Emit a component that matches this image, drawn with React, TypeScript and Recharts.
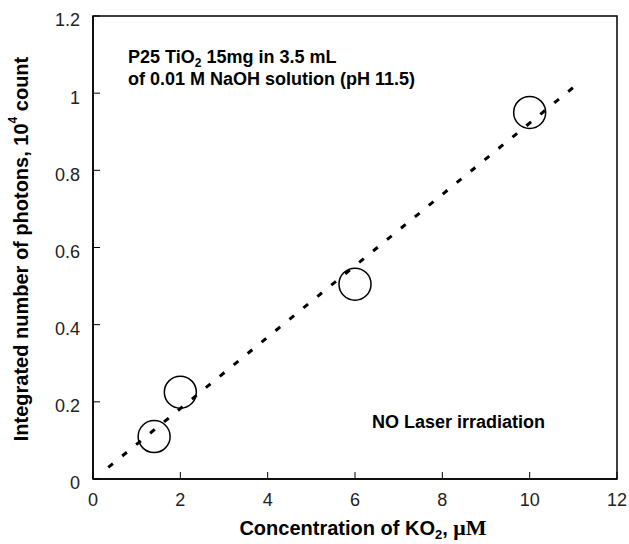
import { ScatterChart, Scatter, XAxis, YAxis, ReferenceArea, Label } from "recharts";

// measured points: KO2 concentration (uM) vs integrated photons (10^4 count)
const koConc = [1.4, 2, 6, 10];
const photons = [0.11, 0.225, 0.505, 0.95];

// linear fit line end points
const fitConc = [0.35, 11];
const fitPhotons = [0.03, 1.015];

const xTicks = [0, 2, 4, 6, 8, 10, 12];
const yTicks = [0, 0.2, 0.4, 0.6, 0.8, 1, 1.2];

const points = koConc.map((x, i) => ({ x, y: photons[i] }));
const fit = fitConc.map((x, i) => ({ x, y: fitPhotons[i] }));

const font = "Liberation Sans, Arial, sans-serif";

const OpenCircle = (props: any) => {
  const { cx, cy } = props;
  return <circle cx={cx} cy={cy} r={16} fill="none" stroke="#000" strokeWidth={1.5} />;
};

const YTick = (props: any) => {
  const { x, y, payload } = props;
  return (
    <text x={x} y={y + 4} dy="0.355em" textAnchor="end" fontFamily={font} fontSize={18} fill="#222">
      {payload.value}
    </text>
  );
};

const XTick = (props: any) => {
  const { x, y, payload } = props;
  return (
    <text x={x} y={y} dy="0.71em" textAnchor="middle" fontFamily={font} fontSize={18} fill="#222">
      {payload.value}
    </text>
  );
};

const YTitle = (props: any) => {
  const vb = props.viewBox;
  const cx = vb.x + 21;
  const cy = 249;
  return (
    <text
      x={cx}
      y={cy}
      transform={`rotate(-90, ${cx}, ${cy})`}
      textAnchor="middle"
      dominantBaseline="central"
      fontFamily={font}
      fontWeight="bold"
      fontSize={20}
      fill="#000"
    >
      Integrated number of photons, 10
      <tspan dy={-8} fontSize={12}>4</tspan>
      <tspan dy={8}> count</tspan>
    </text>
  );
};

const XTitle = (props: any) => {
  const vb = props.viewBox;
  return (
    <text
      x={vb.x + vb.width / 2 + 8}
      y={535}
      textAnchor="middle"
      fontFamily={font}
      fontWeight="bold"
      fontSize={20}
      fill="#000"
    >
      Concentration of KO
      <tspan dy={4} fontSize={13}>2</tspan>
      <tspan dy={-4}>, </tspan>
      <tspan fontFamily="Liberation Serif, Times New Roman, serif" fontSize={22}>μM</tspan>
    </text>
  );
};

const Notes = (props: any) => {
  const vb = props.viewBox;
  const left = vb.x + 35;
  return (
    <g fontFamily={font} fontWeight="bold" fontSize={18} fill="#000">
      <text x={left} y={vb.y + 47}>
        P25 TiO
        <tspan dy={4} fontSize={12}>2</tspan>
        <tspan dy={-4}> 15mg in 3.5 mL</tspan>
      </text>
      <text x={left} y={vb.y + 69}>of 0.01 M NaOH solution (pH 11.5)</text>
      <text x={vb.x + 279} y={vb.y + 412}>NO Laser irradiation</text>
    </g>
  );
};

export default function App() {
  return (
    <div style={{ position: "absolute", left: 0, top: 0, background: "#fff" }}>
      <ScatterChart width={629} height={544} margin={{ top: 16, right: 12, bottom: 0, left: 0 }}>
        <XAxis
          type="number"
          dataKey="x"
          domain={[0, 12]}
          ticks={xTicks}
          height={65}
          axisLine={{ stroke: "#000", strokeWidth: 1.5 }}
          tickLine={{ stroke: "#000", strokeWidth: 1 }}
          tickSize={-7}
          tickMargin={21}
          tick={<XTick />}
          interval={0}
          allowDataOverflow
        >
          <Label content={<XTitle />} />
        </XAxis>
        <YAxis
          type="number"
          dataKey="y"
          domain={[0, 1.2]}
          ticks={yTicks}
          width={93}
          axisLine={{ stroke: "#000", strokeWidth: 1.5 }}
          tickLine={{ stroke: "#000", strokeWidth: 1 }}
          tickSize={-7}
          tickMargin={20}
          tick={<YTick />}
          interval={0}
          allowDataOverflow
        >
          <Label content={<YTitle />} />
        </YAxis>
        <ReferenceArea
          x1={0}
          x2={12}
          y1={0}
          y2={1.2}
          fill="none"
          stroke="#000"
          strokeWidth={1.5}
          label={<Notes />}
        />
        <Scatter
          data={fit}
          line={{ stroke: "#000", strokeWidth: 3, strokeDasharray: "6 12" }}
          shape={() => <g />}
          isAnimationActive={false}
        />
        <Scatter data={points} shape={<OpenCircle />} isAnimationActive={false} />
      </ScatterChart>
    </div>
  );
}
